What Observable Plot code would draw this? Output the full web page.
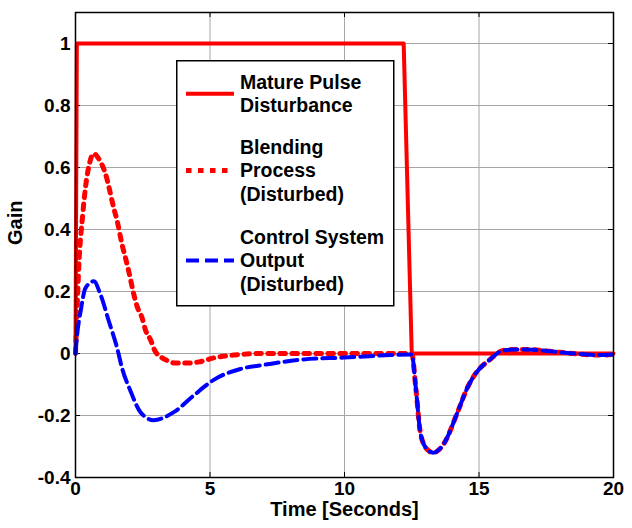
<!DOCTYPE html>
<html>
<head>
<meta charset="utf-8">
<script src="https://cdn.jsdelivr.net/npm/d3@7"></script>
<script src="https://cdn.jsdelivr.net/npm/@observablehq/plot@0.6"></script>
<style>
  html, body { margin: 0; padding: 0; background: white; }
  #wrap { position: relative; width: 632px; height: 528px; }
  #legend { position: absolute; left: 176px; top: 60px; }
  #wrap g[aria-label$="tick label"], #wrap g[aria-label$="tick label"] text { font-size: 19px !important; font-weight: bold !important; }
</style>
</head>
<body>
<div id="wrap"></div>
<script>
// ---- data ----
const xTicks = [0, 5, 10, 15, 20];
const yTicks = [-0.4, -0.2, 0, 0.2, 0.4, 0.6, 0.8, 1];

const seriesNames = ["Mature Pulse Disturbance", "Blending Process (Disturbed)", "Control System Output (Disturbed)"];
const legendLines = [["Mature Pulse", "Disturbance"], ["Blending", "Process", "(Disturbed)"], ["Control System", "Output", "(Disturbed)"]];

const pulseT = [0, 0.05, 12.2, 12.5, 20];
const pulseV = [0, 1, 1, 0, 0];

const blendT = [0, 0.05, 0.12, 0.27, 0.37, 0.5, 0.68, 0.85, 1.12, 1.42, 1.55, 1.73, 1.86, 1.98, 2.17, 2.29, 2.48, 2.6, 2.79, 2.97, 3.35, 3.72, 4.2, 4.6, 5.1, 5.9, 7, 8.5, 10, 11.5, 12.5, 12.65, 12.83, 13.08, 13.3, 13.7, 14.2, 14.57, 14.87, 15.4, 15.9, 16.4, 17.0, 18.0, 19.5, 20];
const blendV = [0, 0.12, 0.276, 0.449, 0.535, 0.605, 0.645, 0.63, 0.578, 0.47, 0.427, 0.352, 0.308, 0.265, 0.19, 0.152, 0.114, 0.076, 0.044, 0.006, -0.02, -0.031, -0.031, -0.027, -0.015, -0.005, 0, 0, 0, 0, 0, -0.11, -0.26, -0.31, -0.32, -0.29, -0.19, -0.11, -0.065, -0.02, 0.01, 0.013, 0.012, 0.004, -0.005, -0.003];

const controlT = [0, 0.06, 0.19, 0.37, 0.68, 0.93, 1.24, 1.55, 1.73, 2.04, 2.42, 2.9, 3.64, 4.4, 5.14, 6.13, 7.13, 8.36, 9.98, 11.5, 12.5, 12.65, 12.83, 13.08, 13.3, 13.7, 14.2, 14.57, 14.87, 15.4, 15.9, 16.4, 17.0, 18.0, 19.5, 20];
const controlV = [0, 0.06, 0.136, 0.211, 0.233, 0.19, 0.104, 0.017, -0.047, -0.12, -0.19, -0.215, -0.19, -0.135, -0.085, -0.05, -0.035, -0.02, -0.013, -0.006, -0.003, -0.11, -0.26, -0.31, -0.32, -0.29, -0.19, -0.11, -0.065, -0.02, 0.01, 0.013, 0.012, 0.004, -0.005, -0.003];

const toRows = (ts, vs) => ts.map((t, i) => ({t, v: vs[i]}));
const pulse = toRows(pulseT, pulseV);
const blend = toRows(blendT, blendV);
const control = toRows(controlT, controlV);

const RED = "#ff0000", BLUE = "#0000ff";
const styles = [
  {stroke: RED, strokeWidth: 4, dash: null},
  {stroke: RED, strokeWidth: 5, dash: "5.5,6.5"},
  {stroke: BLUE, strokeWidth: 4, dash: "13,6"}
];

const fmt = d => String(d);
const FONT = "'Liberation Sans', Arial, sans-serif";

const W = 632, H = 528, ML = 75, MR = 19, MT = 12, MB = 51;
const FW = W - ML - MR, FH = H - MT - MB, TICK = 5;

const chart = Plot.plot({
  width: W,
  height: H,
  marginLeft: ML,
  marginRight: MR,
  marginTop: MT,
  marginBottom: MB,
  x: {domain: [0, 20]},
  y: {domain: [-0.4, 1.1]},
  style: {fontFamily: FONT, fontSize: "19px", fontWeight: "bold", background: "white", color: "black"},
  marks: [
    Plot.gridX(xTicks, {stroke: "#a6a6a6", strokeOpacity: 1, strokeWidth: 1}),
    Plot.gridY(yTicks, {stroke: "#a6a6a6", strokeOpacity: 1, strokeWidth: 1}),
    // inward tick marks on all four sides
    Plot.ruleY(yTicks, {insetRight: FW - TICK, stroke: "black"}),
    Plot.ruleY(yTicks, {insetLeft: FW - TICK, stroke: "black"}),
    Plot.ruleX(xTicks, {insetTop: FH - TICK, stroke: "black"}),
    Plot.ruleX(xTicks, {insetBottom: FH - TICK, stroke: "black"}),
    Plot.axisX(xTicks, {tickSize: 0, tickPadding: 4, tickFormat: fmt, label: null, fontSize: 19}),
    Plot.axisY(yTicks, {tickSize: 0, tickPadding: 5, tickFormat: fmt, label: null, fontSize: 19}),
    Plot.text(["Time [Seconds]"], {frameAnchor: "bottom", lineAnchor: "middle", dy: 32, fontSize: 20, fontWeight: "bold"}),
    Plot.text(["Gain"], {frameAnchor: "left", dx: -60, rotate: -90, fontSize: 20, fontWeight: "bold"}),
    Plot.line(pulse, {x: "t", y: "v", stroke: styles[0].stroke, strokeWidth: styles[0].strokeWidth}),
    Plot.line(blend, {x: "t", y: "v", stroke: styles[1].stroke, strokeWidth: styles[1].strokeWidth, strokeDasharray: styles[1].dash, curve: "monotone-x"}),
    Plot.line(control, {x: "t", y: "v", stroke: styles[2].stroke, strokeWidth: styles[2].strokeWidth, strokeDasharray: styles[2].dash, curve: "monotone-x"}),
    Plot.frame({stroke: "black", strokeWidth: 1.5})
  ]
});

const wrap = document.getElementById("wrap");
wrap.appendChild(chart);

// ---- legend overlay ----
const lw = 217, lh = 245, lineH = 23.5;
const itemTop = [22, 87, 177];
const leg = d3.create("svg").attr("id", "legend").attr("width", lw + 2).attr("height", lh + 2)
  .style("font-family", FONT).style("font-weight", "bold").style("font-size", "19.5px");
leg.append("rect").attr("x", 0.75).attr("y", 0.75).attr("width", lw).attr("height", lh)
  .attr("fill", "white").attr("stroke", "black").attr("stroke-width", 1.5);
legendLines.forEach((lines, i) => {
  const top = itemTop[i];
  const mid = top + (lines.length - 1) * lineH / 2;
  const s = styles[i];
  leg.append("line").attr("x1", 10).attr("x2", 58).attr("y1", mid).attr("y2", mid)
    .attr("stroke", s.stroke).attr("stroke-width", s.strokeWidth)
    .attr("stroke-dasharray", s.dash);
  lines.forEach((txt, j) => {
    leg.append("text").attr("x", 64).attr("y", top + j * lineH).attr("dy", "0.35em").text(txt);
  });
});
wrap.appendChild(leg.node());
</script>
</body>
</html>
